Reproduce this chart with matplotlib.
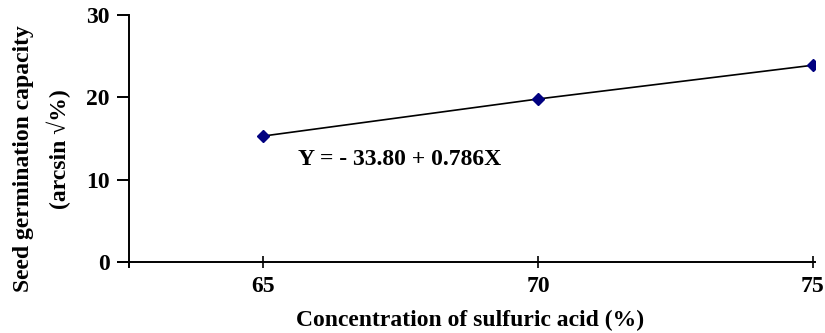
import matplotlib
matplotlib.use("Agg")
import matplotlib.pyplot as plt

# Data
concentration = [65, 70, 75]
germination = [15.3, 19.8, 23.9]
x_ticks = [65, 70, 75]
y_ticks = [0, 10, 20, 30]
equation = "Y = - 33.80 + 0.786X"

plt.rcParams['font.family'] = ['Liberation Serif', 'DejaVu Serif']
plt.rcParams['font.weight'] = 'bold'

W, H = 825, 333
FS = 17
fig = plt.figure(figsize=(W / 100, H / 100), dpi=100)
ax = fig.add_axes([129 / W - 11 / W, 1 - 267 / H, (815 - 118) / W, (267 - 15) / H])

ax.plot(concentration, germination, color='black', lw=1.2, zorder=2)
ax.plot(concentration, germination, linestyle='none', marker='D', markersize=6.5,
        markerfacecolor='#000080', markeredgecolor='#000080', zorder=3)

ax.set_xlim(62.36, 75.04)
ax.set_ylim(-0.6, 30)

for s in ['top', 'right']:
    ax.spines[s].set_visible(False)
ax.spines['left'].set_position(('data', 62.56))
ax.spines['bottom'].set_position(('data', 0))
for s in ['left', 'bottom']:
    ax.spines[s].set_linewidth(1.4)

ax.set_xticks(x_ticks)
ax.set_yticks(y_ticks)
ax.tick_params(axis='y', direction='out', length=9, width=1.4, labelsize=FS, pad=5)
ax.tick_params(axis='x', direction='inout', length=8, width=1.2, labelsize=FS, pad=6)
for lab in ax.get_xticklabels() + ax.get_yticklabels():
    lab.set_fontweight('bold')

ax.text(65.63, 12.4, equation, fontsize=FS, fontweight='bold', ha='left', va='center')

fig.text(470 / W, 1 - 320 / H, "Concentration of sulfuric acid (%)", fontsize=FS,
         fontweight='bold', ha='center', va='center')
fig.text(24 / W, 1 - 159 / H, "Seed germination capacity", fontsize=FS,
         fontweight='bold', ha='center', va='center', rotation=90)
fig.text(59 / W, 1 - 149 / H, "(arcsin \u221a%)", fontsize=FS,
         fontweight='bold', ha='center', va='center', rotation=90)

fig.savefig("out.png", dpi=100)
